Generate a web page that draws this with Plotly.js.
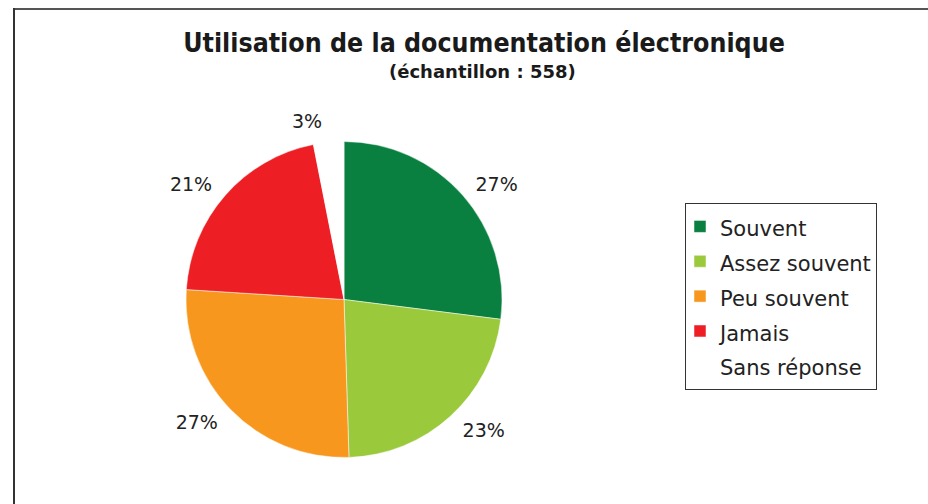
<!DOCTYPE html>
<html>
<head>
<meta charset="utf-8">
<script src="https://cdn.plot.ly/plotly-3.0.1.min.js"></script>
<style>
  html, body { margin: 0; padding: 0; background: #fff; }
  #chart { width: 928px; height: 504px; }
</style>
</head>
<body>
<div id="chart"></div>
<script>
// Categories and values (percent of sample)
const categories = ["Souvent", "Assez souvent", "Peu souvent", "Jamais", "Sans réponse"];
const values = [27.0, 22.5, 26.5, 20.9, 3.1];
const valueLabels = ["27%", "23%", "27%", "21%", "3%"];
const colors = ["#0a8040", "#9aca3c", "#f7971e", "#ee1f24", "#ffffff"];

const W = 928, H = 504;
const px = x => x / W;
const py = y => 1 - y / H;

// visible pie (slices + legend)
const pieTrace = {
  type: "pie",
  labels: categories.map(c => '<span style="font-size:21px">' + c + '</span>'),
  values: values,
  textinfo: "none",
  hoverinfo: "label+value",
  sort: false,
  direction: "clockwise",
  rotation: 0,
  marker: { colors: colors, line: { color: "#ffffff", width: 0.5 } },
  domain: { x: [px(186), px(502)], y: [py(458), py(141)] }
};

// same data, transparent, slightly larger: carries the outside percentage labels
const labelTrace = {
  type: "pie",
  labels: categories.map(c => '<span style="font-size:21px">' + c + '</span>'),
  values: values,
  text: valueLabels,
  textinfo: "text",
  textposition: "outside",
  hoverinfo: "skip",
  sort: false,
  direction: "clockwise",
  rotation: 0,
  showlegend: false,
  marker: { colors: colors.map(() => "rgba(0,0,0,0)"), line: { width: 0 } },
  textfont: { family: "DejaVu Sans, Verdana, sans-serif", size: 19, color: "#222222" },
  domain: { x: [px(176), px(512)], y: [py(468), py(131)] }
};

const layout = {
  width: W, height: H,
  margin: { l: 0, r: 0, t: 0, b: 0 },
  paper_bgcolor: "#ffffff",
  plot_bgcolor: "#ffffff",
  font: { family: "DejaVu Sans, Verdana, sans-serif", color: "#222222" },
  title: {
    text: "<b>Utilisation de la documentation électronique</b>",
    font: { family: "DejaVu Sans Condensed, DejaVu Sans, sans-serif", size: 26.5, color: "#1a1a1a", stretch: "condensed" },
    x: px(484), xref: "paper", xanchor: "center",
    y: py(43), yref: "container", yanchor: "middle"
  },
  annotations: [{
    text: "<b>(échantillon : 558)</b>",
    xref: "paper", yref: "paper",
    x: px(482), y: py(72), xanchor: "center", yanchor: "middle",
    showarrow: false,
    font: { family: "DejaVu Sans, Verdana, sans-serif", size: 18, color: "#1a1a1a" }
  }],
  showlegend: true,
  legend: {
    x: px(685), y: py(203), xanchor: "left", yanchor: "top",
    xref: "paper", yref: "paper",
    bgcolor: "#ffffff", bordercolor: "#333333", borderwidth: 1,
    indentation: -6,
    font: { family: "DejaVu Sans, Verdana, sans-serif", size: 24.5, color: "#222222" },
    traceorder: "normal"
  },
  shapes: [
    { type: "line", xref: "paper", yref: "paper", x0: px(14), x1: 1, y0: py(9), y1: py(9),
      line: { color: "#555555", width: 2 } },
    { type: "line", xref: "paper", yref: "paper", x0: px(14), x1: px(14), y0: py(8), y1: 0,
      line: { color: "#333333", width: 2 } }
  ]
};

Plotly.newPlot("chart", [labelTrace, pieTrace], layout, { displayModeBar: false, staticPlot: true });
</script>
</body>
</html>
